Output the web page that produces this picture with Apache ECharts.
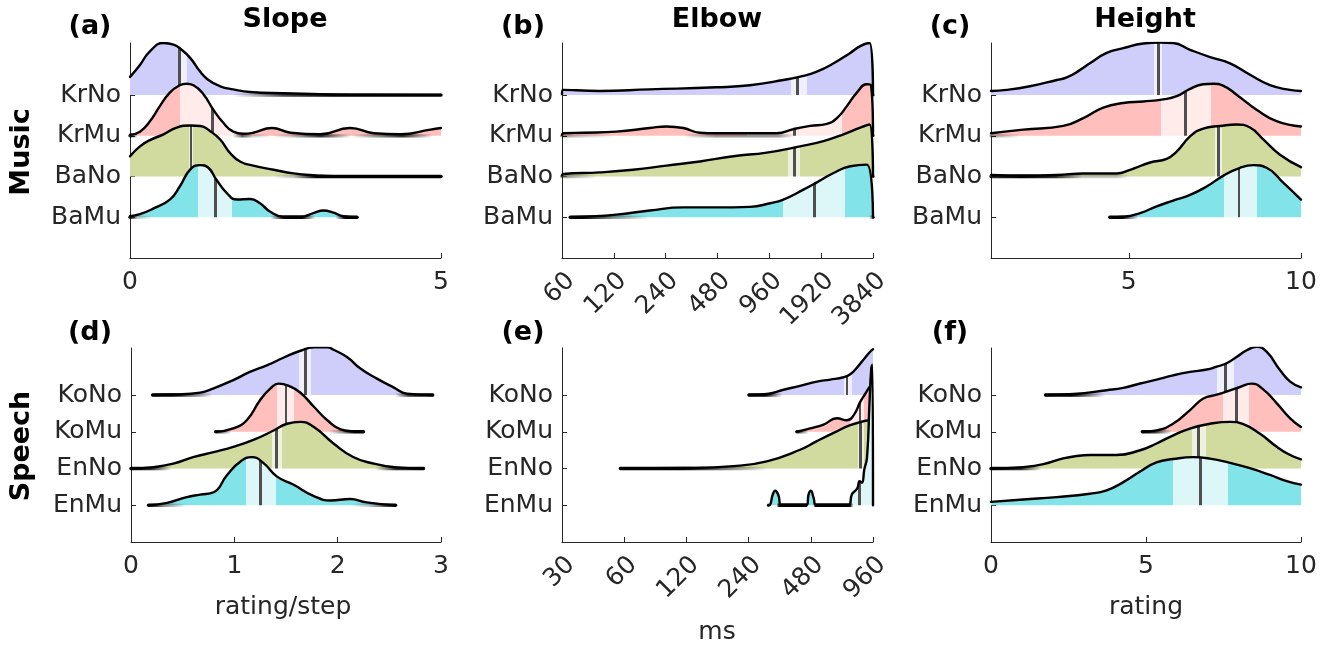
<!DOCTYPE html>
<html><head><meta charset="utf-8">
<script src="https://cdn.jsdelivr.net/npm/echarts@6/dist/echarts.min.js"></script>
<style>html,body{margin:0;padding:0;background:#fff}#c{width:1341px;height:649px}</style>
</head><body><div id="c"></div>
<script>
// ---------- categories ----------
const musicCats = ['KrNo', 'KrMu', 'BaNo', 'BaMu'];
const speechCats = ['KoNo', 'KoMu', 'EnNo', 'EnMu'];
const colTitles = ['Slope', 'Elbow', 'Height'];
const rowTitles = ['Music', 'Speech'];
const panelTags = ['(a)', '(b)', '(c)', '(d)', '(e)', '(f)'];
const xTitles = ['rating/step', 'ms', 'rating'];

// ---------- density ridges: [x, relative height] ----------
// (a) Slope, music
const aKrNo = [[0,.35],[.16,.58],[.32,.84],[.54,1.0],[.70,.97],[.83,.87],[.97,.71],[1.13,.45],[1.26,.29],[1.45,.17],[1.66,.11],[1.93,.06],[2.47,.035],[3.27,.015],[3.81,.008],[5,.004]];
const aKrMu = [[0,.02],[.16,.08],[.32,.28],[.48,.57],[.64,.83],[.80,.97],[.91,1.0],[1.02,.97],[1.18,.8],[1.34,.5],[1.50,.25],[1.66,.08],[1.82,.04],[1.98,.06],[2.28,.15],[2.58,.06],[3.06,.03],[3.54,.15],[3.92,.05],[4.35,.03],[4.83,.12],[5,.15]];
const aBaNo = [[0,.39],[.16,.58],[.32,.70],[.54,.81],[.75,.94],[.97,.98],[1.13,.97],[1.29,.87],[1.45,.71],[1.61,.45],[1.77,.29],[1.98,.21],[2.31,.13],[2.63,.06],[3.0,.02],[3.27,.005],[5,0]];
const aBaMu = [[0,.02],[.16,.06],[.38,.17],[.64,.34],[.80,.59],[.97,.92],[1.13,1.0],[1.26,.95],[1.39,.72],[1.56,.46],[1.72,.34],[1.93,.35],[2.09,.27],[2.25,.11],[2.47,.01],[2.74,.01],[2.95,.08],[3.11,.13],[3.27,.09],[3.43,.02],[3.65,0]];
// (b) Elbow, music (ms)
const bKrNo = [[60,.02],[61,.1],[99,.08],[194,.11],[474,.15],[741,.19],[1158,.29],[1515,.37],[1812,.45],[2267,.61],[2834,.81],[3238,.94],[3669,1.0],[3840,0]];
const bKrMu = [[60,.02],[61,.05],[80,.06],[124,.08],[194,.15],[243,.18],[304,.15],[379,.06],[474,.05],[741,.05],[1060,.05],[1325,.13],[1656,.19],[2071,.23],[2370,.34],[2707,.57],[3095,.83],[3536,.99],[3736,.97],[3840,0]];
const bBaNo = [[60,.02],[61,.05],[99,.08],[155,.13],[243,.21],[379,.29],[593,.39],[927,.46],[1449,.58],[1980,.68],[2589,.81],[3238,.94],[3669,1.0],[3840,0]];
const bBaMu = [[67,0],[80,.01],[124,.05],[194,.13],[304,.19],[474,.19],[741,.2],[970,.27],[1158,.34],[1515,.53],[1812,.67],[2267,.85],[2834,.98],[3536,1.01],[3840,0]];
// (c) Height, music
const cKrNo = [[1,.08],[1.45,.1],[2.13,.17],[2.91,.29],[3.20,.34],[3.58,.48],[3.87,.61],[4.36,.81],[4.84,.9],[5.42,.99],[5.91,1.01],[6.29,1.0],[6.78,.87],[7.36,.73],[7.94,.61],[8.52,.39],[9.10,.19],[9.68,.1],[10,.08]];
const cKrMu = [[1,.05],[1.94,.12],[3.10,.19],[3.68,.34],[4.26,.54],[4.84,.63],[5.42,.66],[6.0,.7],[6.39,.76],[6.78,.9],[7.16,.99],[7.45,1.0],[7.75,.96],[8.13,.79],[8.71,.5],[9.29,.28],[10,.18]];
const cBaNo = [[1,.03],[1.94,.02],[2.91,.03],[3.68,.06],[4.65,.06],[5.04,.13],[5.62,.27],[6.10,.34],[6.39,.48],[6.78,.77],[7.16,.92],[7.65,.97],[8.13,1.0],[8.52,.94],[8.91,.71],[9.39,.42],[10,.18]];
const cBaMu = [[4.45,0],[4.84,.01],[5.33,.08],[5.81,.21],[6.29,.32],[6.78,.43],[7.26,.59],[7.75,.8],[8.23,.95],[8.62,1.0],[9.0,.95],[9.49,.66],[10,.34]];
// (d) Slope, speech
const dKoNo = [[.21,0],[.41,.01],[.67,.05],[.80,.14],[.99,.31],[1.15,.48],[1.32,.62],[1.48,.78],[1.64,.92],[1.77,.99],[1.90,.99],[1.96,.94],[2.09,.79],[2.22,.55],[2.38,.34],[2.54,.16],[2.67,.03],[2.92,0]];
const dKoMu = [[.82,0],[.99,.07],[1.12,.24],[1.25,.66],[1.35,.9],[1.43,1.0],[1.54,.94],[1.64,.81],[1.77,.52],[1.90,.24],[2.03,.05],[2.15,.01],[2.25,0]];
const dEnNo = [[0,0],[.22,.03],[.41,.10],[.61,.24],[.80,.34],[.99,.45],[1.19,.6],[1.38,.79],[1.51,.93],[1.64,.97],[1.77,.86],[1.96,.52],[2.15,.24],[2.35,.1],[2.54,.03],[2.83,0]];
const dEnMu = [[.17,0],[.35,.05],[.54,.17],[.67,.22],[.80,.27],[.93,.63],[1.06,.91],[1.17,1.0],[1.28,.88],[1.41,.6],[1.57,.43],[1.77,.19],[1.93,.1],[2.12,.13],[2.28,.06],[2.56,0]];
// (e) Elbow, speech (ms)
const eKoNo = [[241,0],[294,.02],[354,.11],[426,.19],[514,.28],[596,.32],[692,.37],[745,.43],[803,.57],[865,.74],[939,.92],[960,.95]];
const eKoMu = [[411,0],[477,.07],[553,.15],[642,.28],[718,.24],[773,.34],[833,.62],[881,.79],[924,.93],[945,.96]];
const eEnNo = [[57.5,0],[116,.01],[203,.05],[294,.15],[426,.39],[514,.57],[619,.74],[745,.9],[914,1.0],[935,0]];
const eEnMu = [[300,0],[305,.01],[314,.22],[323,.3],[335,.2],[344,.01],[460,.01],[468,.22],[480,.3],[495,.16],[508,.01],[731,.01],[759,.23],[788,.3],[809,.37],[827,.5],[849,.47],[871,.74],[898,.99],[924,2.16],[942,2.85],[954,2.92],[960,0]];
// (f) Height, speech
const fKoNo = [[1.76,0],[2.66,.02],[3.73,.10],[4.27,.15],[4.81,.24],[5.34,.32],[5.88,.41],[6.42,.48],[6.96,.53],[7.28,.59],[7.60,.66],[7.92,.79],[8.25,.93],[8.57,1.0],[8.89,.9],[9.32,.52],[9.65,.28],[10,.16]];
const fKoMu = [[4.88,0],[5.34,.03],[5.88,.17],[6.42,.45],[6.85,.69],[7.28,.77],[7.71,.86],[8.03,.93],[8.41,1.0],[8.78,.88],[9.22,.59],[9.65,.28],[10,.1]];
const fEnNo = [[0,0],[1.04,.03],[1.69,.09],[2.33,.21],[2.76,.26],[3.19,.28],[4.05,.28],[4.81,.38],[5.34,.52],[5.88,.69],[6.42,.83],[7.06,.93],[7.71,.97],[8.14,.92],[8.68,.72],[9.22,.45],[9.65,.28],[10,.19]];
const fEnMu = [[0,.07],[1.04,.12],[2.12,.17],[3.19,.24],[3.73,.31],[4.27,.48],[4.81,.7],[5.34,.89],[5.88,.96],[6.53,1.0],[7.06,.97],[7.71,.88],[8.35,.77],[9.0,.63],[9.54,.5],[10,.43]];

// ---------- medians and median confidence bands (per ridge, top to bottom) ----------
const aMed = [0.80, 1.33, 0.98, 1.37], aLo = [0.78, 0.80, 0.95, 1.10], aHi = [0.91, 1.75, 1.02, 1.64];
const bMed = [1398, 1343, 1337, 1755], bLo = [1279, 709, 1240, 1158], bHi = [1584, 2532, 1449, 2647];
const cMed = [5.86, 6.65, 7.60, 8.20], cLo = [5.74, 5.93, 7.50, 7.76], cHi = [5.95, 7.39, 7.70, 8.71];
const dMed = [1.69, 1.50, 1.41, 1.25], dLo = [1.63, 1.41, 1.36, 1.11], dHi = [1.74, 1.58, 1.46, 1.40];
const eMed = [718, 830, 833, 827], eLo = [692, 745, 809, 760], eHi = [759, 865, 865, 960];
const fMed = [7.57, 7.92, 6.69, 6.76], fLo = [7.30, 7.47, 6.47, 5.86], fHi = [7.84, 8.33, 6.92, 7.66];

// ---------- tick labels ----------
const aTicks = [0, 5], bTicks = [60, 120, 240, 480, 960, 1920, 3840], cTicks = [5, 10];
const dTicks = [0, 1, 2, 3], eTicks = [30, 60, 120, 240, 480, 960], fTicks = [0, 5, 10];

// ---------- styling ----------
const FILL = ['#cfcdfa', '#ffbfbc', '#d1da9f', '#82e3e8'];
const BAND = ['#f0effe', '#ffebea', '#eef1dd', '#ddf7f8'];
const MEDC = '#4f4f4f';
const AX = '#262626';
const FONT = '"DejaVu Sans", "Open Sans", sans-serif';

const panels = [
  {ridges:[aKrNo,aKrMu,aBaNo,aBaMu], med:aMed, lo:aLo, hi:aHi, cats:musicCats, log:0, min:0, max:5, ticks:aTicks, rect:[130,43,311,215], R:1.28},
  {ridges:[bKrNo,bKrMu,bBaNo,bBaMu], med:bMed, lo:bLo, hi:bHi, cats:musicCats, log:60, min:60, max:3840, ticks:bTicks, rect:[562,43,311,215], R:1.28},
  {ridges:[cKrNo,cKrMu,cBaNo,cBaMu], med:cMed, lo:cLo, hi:cHi, cats:musicCats, log:0, min:1, max:10, ticks:cTicks, rect:[991,43,310,215], R:1.28},
  {ridges:[dKoNo,dKoMu,dEnNo,dEnMu], med:dMed, lo:dLo, hi:dHi, cats:speechCats, log:0, min:0, max:3, ticks:dTicks, rect:[131,348,310,194], R:1.31},
  {ridges:[eKoNo,eKoMu,eEnNo,eEnMu], med:eMed, lo:eLo, hi:eHi, cats:speechCats, log:30, min:30, max:960, ticks:eTicks, rect:[562,348,311,194], R:1.31},
  {ridges:[fKoNo,fKoMu,fEnNo,fEnMu], med:fMed, lo:fLo, hi:fHi, cats:speechCats, log:0, min:0, max:10, ticks:fTicks, rect:[991,348,310,194], R:1.31}
];
const YMAX = 5.28;

const grids = [], xAxes = [], yAxes = [], series = [];
panels.forEach((p, pi) => {
  const tx = p.log ? (v => Math.log2(v / p.log)) : (v => v);
  const xmin = tx(p.min), xmax = tx(p.max);
  const pxPerUnit = p.rect[2] / (xmax - xmin);
  grids.push({left:p.rect[0], top:p.rect[1], width:p.rect[2], height:p.rect[3], containLabel:false, outerBoundsMode:'none'});
  const tickVals = p.ticks.map(tx);
  const xLabel = {show:true, customValues:tickVals, color:AX, fontSize:25, fontFamily:FONT,
      margin: 12,
      formatter: v => p.log ? String(Math.round(p.log * Math.pow(2, v))) : String(Math.round(v))};
  if (p.log) Object.assign(xLabel, {rotate:45, margin:10, align:'right', verticalAlign:'top'});
  xAxes.push({
    type:'value', gridIndex:pi, min:xmin, max:xmax,
    axisLine:{show:true, lineStyle:{color:AX, width:1}},
    axisTick:{show:true, inside:true, length:5, customValues:tickVals, lineStyle:{color:AX}},
    axisLabel:xLabel,
    splitLine:{show:false}
  });
  yAxes.push({
    type:'value', gridIndex:pi, min:0, max:YMAX,
    axisLine:{show:true, lineStyle:{color:AX, width:1}},
    axisTick:{show:true, inside:true, length:5, customValues:[1,2,3,4], lineStyle:{color:AX}},
    axisLabel:{show:true, customValues:[1,2,3,4], color:AX, fontSize:25, fontFamily:FONT, margin:9,
      formatter: v => p.cats[4 - Math.round(v)] || ''},
    splitLine:{show:false}
  });
  p.ridges.forEach((r, i) => {
    const base = 4 - i;
    const xs = r.map(d => tx(d[0]));
    const x0 = xs[0], x1 = xs[xs.length - 1];
    const lo = tx(p.lo[i]), hi = tx(p.hi[i]), med = tx(p.med[i]);
    const w = 1.4 / pxPerUnit;
    const f = v => Math.min(1, Math.max(0, (v - x0) / (x1 - x0)));
    const cuts = [0, 1, f(lo), f(hi), f(med - w), f(med + w)].sort((a, b) => a - b);
    const colorAt = t => {
      const v = x0 + t * (x1 - x0);
      if (Math.abs(v - med) <= w) return MEDC;
      if (v >= lo && v <= hi) return BAND[i];
      return FILL[i];
    };
    const stops = [];
    for (let k = 0; k < cuts.length - 1; k++) {
      const a = cuts[k], b = cuts[k + 1];
      if (b - a < 1e-9) continue;
      const c = colorAt((a + b) / 2);
      stops.push({offset:a, color:c}, {offset:b, color:c});
    }
    // darker base edge where the density is near zero
    const tailStops = r.map((d, k) => {
      const al = Math.max(0, Math.min(1, (0.07 - d[1]) / 0.05));
      return {offset: f(xs[k]), color: 'rgba(0,0,0,' + al.toFixed(3) + ')'};
    });
    series.push({
      type:'line', xAxisIndex:pi, yAxisIndex:pi, z:2 + i, silent:true, animation:false,
      data: r.map((d, k) => [xs[k], base + d[1] * p.R]),
      smooth:0.5, showSymbol:false, symbol:'none',
      lineStyle:{color:'#000', width:2.4, cap:'round', join:'round'},
      areaStyle:{origin:base, opacity:1, color:new echarts.graphic.LinearGradient(0, 0, 1, 0, stops)}
    });
    series.push({
      type:'line', xAxisIndex:pi, yAxisIndex:pi, z:2 + i, silent:true, animation:false,
      data:[[x0, base], [x1, base]], showSymbol:false, symbol:'none',
      lineStyle:{width:3.4, cap:'round', color:new echarts.graphic.LinearGradient(0, 0, 1, 0, tailStops)}
    });
  });
});

const txt = (text, x, y, size, bold, extra) => Object.assign({
  type:'text', x, y, silent:true,
  style:{text, fill: bold ? '#000' : AX, font:(bold ? 'bold ' : '') + size + 'px ' + FONT, textAlign:'center', textVerticalAlign:'middle'}
}, extra || {});
const graphic = [
  txt(colTitles[0], 285, 20, 27, true), txt(colTitles[1], 717, 20, 27, true), txt(colTitles[2], 1145, 20, 27, true),
  txt(panelTags[0], 90, 27, 27, true), txt(panelTags[1], 523, 27, 27, true), txt(panelTags[2], 950, 27, 27, true),
  txt(panelTags[3], 90, 333, 27, true), txt(panelTags[4], 523, 333, 27, true), txt(panelTags[5], 950, 333, 27, true),
  txt(rowTitles[0], 22, 152, 27, true, {rotation: Math.PI / 2}),
  txt(rowTitles[1], 22, 446, 27, true, {rotation: Math.PI / 2}),
  txt(xTitles[0], 283, 607, 25, false), txt(xTitles[1], 717, 632, 25, false), txt(xTitles[2], 1146, 607, 25, false)
];

const chart = echarts.init(document.getElementById('c'), null, {renderer:'canvas'});
chart.setOption({animation:false, backgroundColor:'#fff', grid:grids, xAxis:xAxes, yAxis:yAxes, series, graphic});
</script></body></html>
